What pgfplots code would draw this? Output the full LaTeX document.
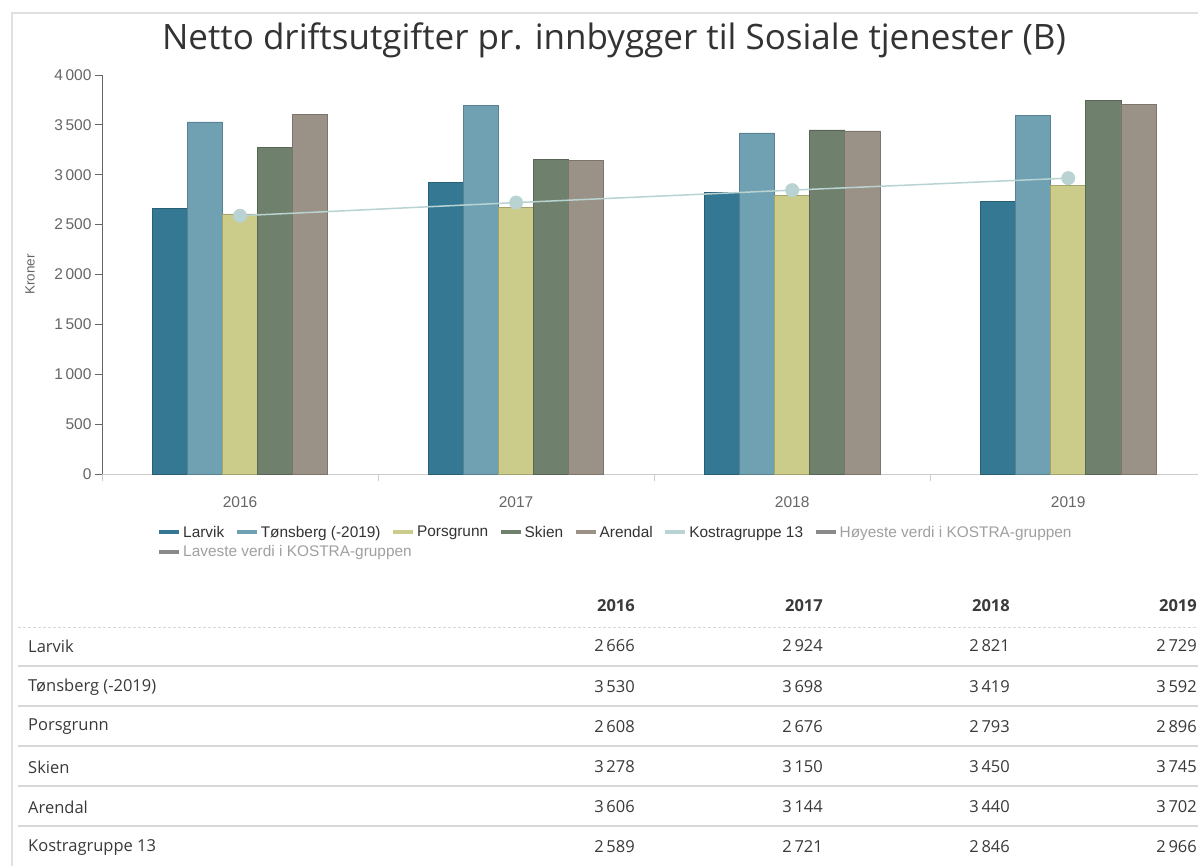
\documentclass[border=0pt]{standalone}
\usepackage{fontspec}
\setmainfont{Open Sans}
\newfontfamily\arial{Liberation Sans}
\usepackage{pgfplots}
\pgfplotsset{compat=1.18}
\usepackage{pgfplotstable}

\definecolor{cA}{HTML}{347893}
\definecolor{cB}{HTML}{6FA1B3}
\definecolor{cC}{HTML}{CCCC8A}
\definecolor{cD}{HTML}{6F806D}
\definecolor{cE}{HTML}{9B9287}
\definecolor{kostra}{HTML}{B8D3D2}
\definecolor{framec}{HTML}{E0E0E0}
\definecolor{titlec}{HTML}{333333}
\definecolor{tickc}{HTML}{666666}
\definecolor{legtext}{HTML}{333333}
\definecolor{hidtext}{HTML}{A0A0A0}
\definecolor{hidsym}{HTML}{8A8A8A}
\definecolor{tabc}{HTML}{3A3A3A}
\definecolor{sepc}{HTML}{D8D8D8}

\pgfplotstableread{
x Larvik Tonsberg Porsgrunn Skien Arendal Kostra
0 2666 3530 2608 3278 3606 2589
1 2924 3698 2676 3150 3144 2721
2 2821 3419 2793 3450 3440 2846
3 2729 3592 2896 3745 3702 2966
}\data

\begin{document}
\begin{tikzpicture}
\path[use as bounding box, fill=white] (0pt,0pt) rectangle (1198pt,-866pt);
\draw[color=framec, line width=2pt] (12pt,-866pt) -- (12pt,-13pt) -- (1198pt,-13pt);
\node[font=\fontsize{35}{40}\selectfont, text=titlec] at (614pt,-40pt) {Netto driftsutgifter pr. innbygger til Sosiale tjenester (B)};

\begin{axis}[
  at={(102pt,-474pt)}, anchor=south west,
  scale only axis, width=1096pt, height=399pt,
  xmin=-0.5, xmax=3.47, ymin=0, ymax=4000,
  axis x line*=bottom, axis y line*=left,
  x axis line style={draw=black!20, line width=1pt},
  y axis line style={draw=black!60, line width=0.8pt},
  tick align=outside, major tick length=7pt,
  xtick={-0.5,0.5,1.5,2.5}, xticklabels={},
  x tick style={draw=black!20, line width=1pt},
  y tick style={draw=black!60, line width=0.8pt},
  extra x ticks={0,1,2,3}, extra x tick labels={2016,2017,2018,2019},
  extra x tick style={major tick length=0pt, xticklabel style={yshift=-19pt}},
  xticklabel style={font=\arial\fontsize{15.5}{17}\selectfont, text=tickc},
  ytick={0,500,...,4000},
  yticklabel style={font=\arial\fontsize{15.5}{17}\selectfont, text=tickc},
  /pgf/number format/.cd, 1000 sep={\,}, assume math mode=true, /pgfplots/.cd,
  ylabel={Kroner},
  ylabel style={font=\arial\fontsize{13.5}{15}\selectfont, text=tickc, at={(axis description cs:-0.0657,0.5)}, anchor=center},
  legend columns=7,
  legend cell align=left,
  legend style={at={(axis description cs:0.0502,-0.125)}, anchor=north west, draw=none, fill=none, inner sep=0pt,
    font=\arial\fontsize{15.4}{17}\selectfont, row sep=3pt,
    /tikz/every even column/.append style={column sep=8.5pt}},
  legend image code/.code={\draw[#1, line width=4pt] (0pt,0pt) -- (20pt,0pt);},
]
\addplot[ybar, bar width=0.127, bar shift=-0.254, fill=cA, draw=cA!80!black, line width=0.6pt, forget plot] table[x=x,y=Larvik]{\data};
\addplot[ybar, bar width=0.127, bar shift=-0.127, fill=cB, draw=cB!80!black, line width=0.6pt, forget plot] table[x=x,y=Tonsberg]{\data};
\addplot[ybar, bar width=0.127, bar shift=0, fill=cC, draw=cC!80!black, line width=0.6pt, forget plot] table[x=x,y=Porsgrunn]{\data};
\addplot[ybar, bar width=0.127, bar shift=0.127, fill=cD, draw=cD!80!black, line width=0.6pt, forget plot] table[x=x,y=Skien]{\data};
\addplot[ybar, bar width=0.127, bar shift=0.254, fill=cE, draw=cE!80!black, line width=0.6pt, forget plot] table[x=x,y=Arendal]{\data};
\addplot[color=kostra, line width=1.5pt, mark=*, mark size=6.2pt, mark options={fill=kostra, draw=kostra}, forget plot] table[x=x,y=Kostra]{\data};

\addlegendimage{draw=cA}\addlegendentry{\textcolor{legtext}{Larvik}}
\addlegendimage{draw=cB}\addlegendentry{\textcolor{legtext}{Tønsberg (-2019)}}
\addlegendimage{draw=cC}\addlegendentry{\textcolor{legtext}{Porsgrunn}}
\addlegendimage{draw=cD}\addlegendentry{\textcolor{legtext}{Skien}}
\addlegendimage{draw=cE}\addlegendentry{\textcolor{legtext}{Arendal}}
\addlegendimage{draw=kostra}\addlegendentry{\textcolor{legtext}{Kostragruppe 13}}
\addlegendimage{draw=hidsym}\addlegendentry{\textcolor{hidtext}{Høyeste verdi i KOSTRA-gruppen}}
\addlegendimage{draw=hidsym}\addlegendentry{\makebox[0pt][l]{\textcolor{hidtext}{Laveste verdi i KOSTRA-gruppen}}}
\end{axis}

% data table
\begin{scope}[every node/.style={inner sep=0pt, text=tabc, font=\fontsize{16.5}{19}\selectfont}]
\foreach \xx/\yr in {635/2016, 823/2017, 1010/2018, 1197/2019}
  \node[anchor=east, font=\bfseries\fontsize{16.5}{19}\selectfont] at (\xx pt,-606pt) {\yr};
\draw[sepc, line width=1pt, dash pattern=on 3pt off 2pt] (18pt,-627pt) -- (1198pt,-627pt);
\foreach \yy in {666,706,746,786,826}
  \draw[sepc, line width=1.2pt] (18pt,-\yy pt) -- (1198pt,-\yy pt);
\foreach \yy/\name/\a/\b/\c/\d in {
  646/Larvik/2\,666/2\,924/2\,821/2\,729,
  687/Tønsberg (-2019)/3\,530/3\,698/3\,419/3\,592,
  727/Porsgrunn/2\,608/2\,676/2\,793/2\,896,
  767/Skien/3\,278/3\,150/3\,450/3\,745,
  807/Arendal/3\,606/3\,144/3\,440/3\,702,
  847/Kostragruppe 13/2\,589/2\,721/2\,846/2\,966}{
  \node[anchor=west] at (28pt,-\yy pt) {\name};
  \node[anchor=east] at (635pt,-\yy pt) {\a};
  \node[anchor=east] at (823pt,-\yy pt) {\b};
  \node[anchor=east] at (1010pt,-\yy pt) {\c};
  \node[anchor=east] at (1197pt,-\yy pt) {\d};
}
\end{scope}
\end{tikzpicture}
\end{document}
